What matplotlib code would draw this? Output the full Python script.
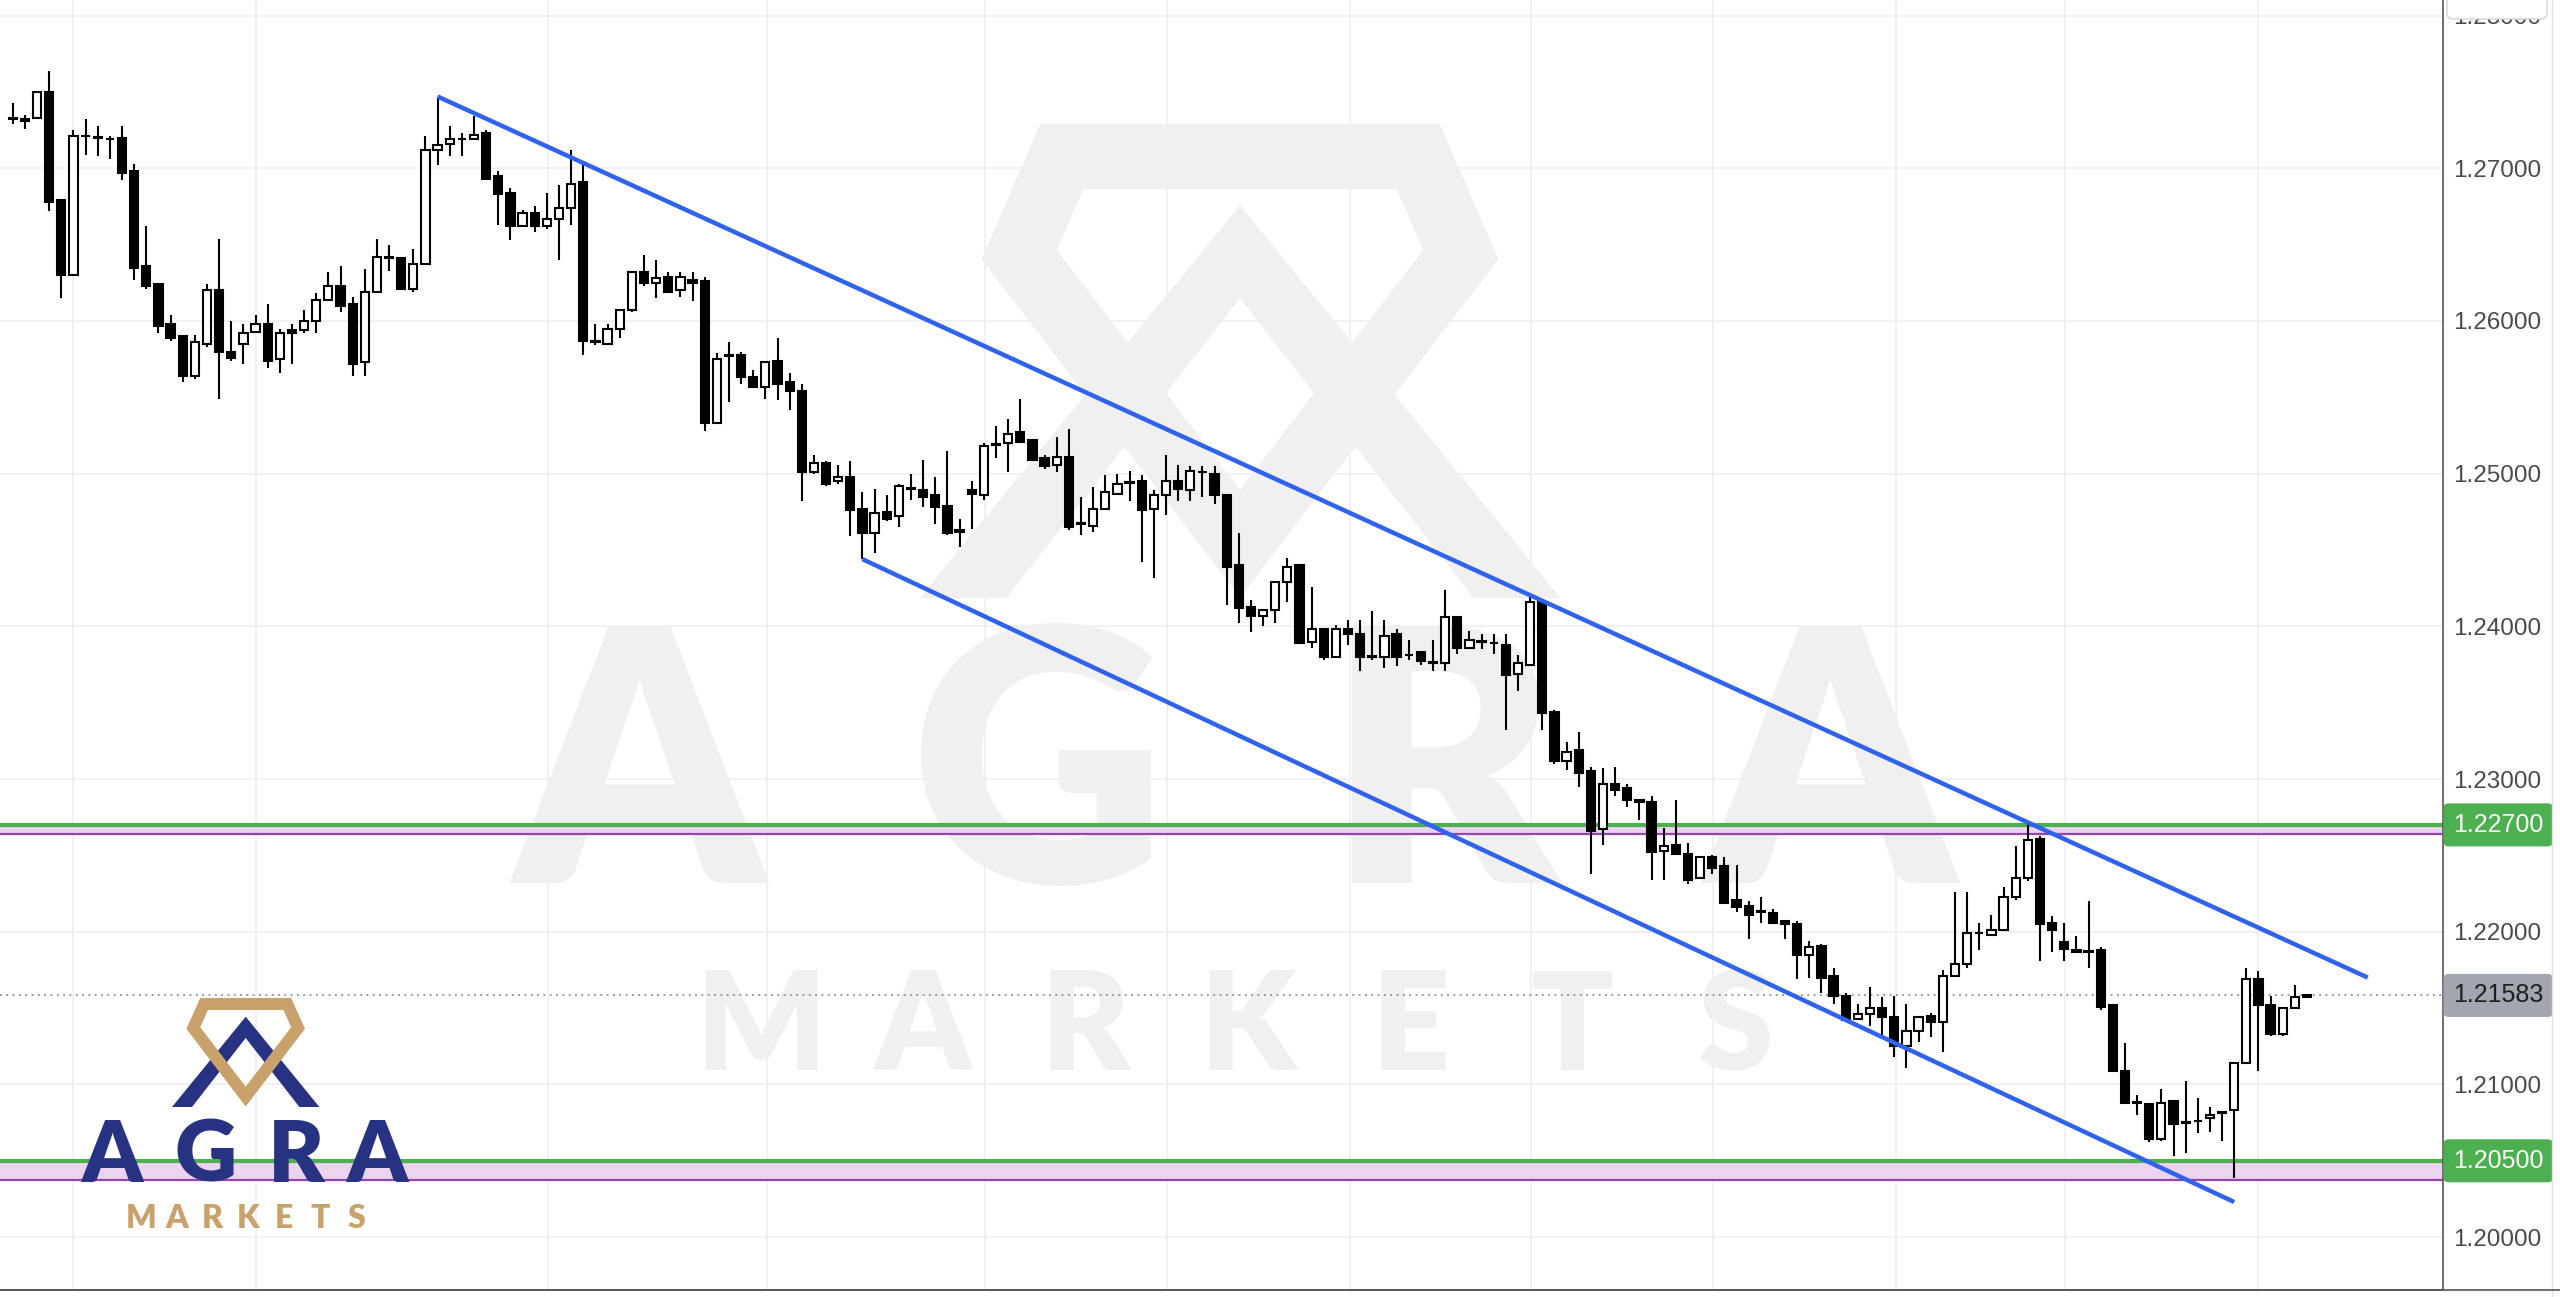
import numpy as np
import matplotlib
matplotlib.use("Agg")
import matplotlib.pyplot as plt
import matplotlib.transforms as mtransforms
from matplotlib.patches import Polygon, FancyBboxPatch

# OHLC candles, oldest first
opens = [
    1.2733, 1.2732, 1.2733, 1.2750, 1.2679, 1.2630, 1.2721, 1.2720, 1.2719, 1.2720,
    1.2698, 1.2636, 1.2624, 1.2598, 1.2590, 1.2564, 1.2585, 1.2620, 1.2580, 1.2585,
    1.2593, 1.2598, 1.2575, 1.2594, 1.2594, 1.2600, 1.2614, 1.2623, 1.2611, 1.2573,
    1.2619, 1.2642, 1.2641, 1.2621, 1.2637, 1.2712, 1.2716, 1.2719, 1.2719, 1.2723,
    1.2695, 1.2684, 1.2662, 1.2671, 1.2662, 1.2667, 1.2674, 1.2691, 1.2587, 1.2585,
    1.2595, 1.2607, 1.2632, 1.2625, 1.2629, 1.2620, 1.2627, 1.2626, 1.2533, 1.2577,
    1.2578, 1.2563, 1.2557, 1.2574, 1.2560, 1.2554, 1.2501, 1.2507, 1.2495, 1.2498,
    1.2477, 1.2461, 1.2475, 1.2472, 1.2490, 1.2489, 1.2486, 1.2479, 1.2463, 1.2489,
    1.2486, 1.2519, 1.2520, 1.2527, 1.2522, 1.2510, 1.2506, 1.2511, 1.2467, 1.2466,
    1.2477, 1.2487, 1.2494, 1.2495, 1.2477, 1.2486, 1.2495, 1.2489, 1.2501, 1.2500,
    1.2486, 1.2440, 1.2413, 1.2407, 1.2411, 1.2429, 1.2440, 1.2390, 1.2398, 1.2380,
    1.2398, 1.2395, 1.2380, 1.2380, 1.2395, 1.2381, 1.2383, 1.2376, 1.2376, 1.2406,
    1.2386, 1.2390, 1.2389, 1.2388, 1.2369, 1.2375, 1.2416, 1.2344, 1.2312, 1.2319,
    1.2305, 1.2267, 1.2297, 1.2294, 1.2286, 1.2285, 1.2253, 1.2257, 1.2251, 1.2235,
    1.2249, 1.2243, 1.2221, 1.2217, 1.2213, 1.2212, 1.2207, 1.2205, 1.2185, 1.2191,
    1.2171, 1.2158, 1.2143, 1.2146, 1.2150, 1.2144, 1.2125, 1.2135, 1.2145, 1.2141,
    1.2171, 1.2179, 1.2199, 1.2198, 1.2201, 1.2223, 1.2235, 1.2261, 1.2206, 1.2193,
    1.2188, 1.2187, 1.2188, 1.2152, 1.2109, 1.2088, 1.2087, 1.2064, 1.2089, 1.2075,
    1.2076, 1.2078, 1.2082, 1.2083, 1.2114, 1.2169, 1.2152, 1.2133, 1.2150, 1.2157,
]
highs = [
    1.2743, 1.2735, 1.2750, 1.2764, 1.2679, 1.2725, 1.2732, 1.2728, 1.2721, 1.2728,
    1.2703, 1.2662, 1.2624, 1.2604, 1.2590, 1.2591, 1.2624, 1.2654, 1.2600, 1.2598,
    1.2604, 1.2611, 1.2595, 1.2598, 1.2607, 1.2618, 1.2632, 1.2636, 1.2616, 1.2634,
    1.2654, 1.2650, 1.2641, 1.2647, 1.2721, 1.2747, 1.2728, 1.2723, 1.2734, 1.2725,
    1.2698, 1.2687, 1.2673, 1.2675, 1.2684, 1.2689, 1.2712, 1.2702, 1.2598, 1.2598,
    1.2607, 1.2633, 1.2643, 1.2640, 1.2632, 1.2632, 1.2632, 1.2629, 1.2579, 1.2586,
    1.2580, 1.2568, 1.2573, 1.2589, 1.2566, 1.2559, 1.2512, 1.2508, 1.2506, 1.2508,
    1.2488, 1.2490, 1.2486, 1.2493, 1.2500, 1.2509, 1.2498, 1.2515, 1.2470, 1.2495,
    1.2520, 1.2531, 1.2536, 1.2549, 1.2522, 1.2512, 1.2524, 1.2529, 1.2485, 1.2491,
    1.2499, 1.2500, 1.2502, 1.2499, 1.2489, 1.2512, 1.2506, 1.2505, 1.2505, 1.2505,
    1.2487, 1.2461, 1.2417, 1.2411, 1.2429, 1.2445, 1.2440, 1.2426, 1.2398, 1.2401,
    1.2404, 1.2404, 1.2410, 1.2404, 1.2398, 1.2391, 1.2383, 1.2391, 1.2424, 1.2406,
    1.2397, 1.2395, 1.2395, 1.2395, 1.2381, 1.2422, 1.2417, 1.2345, 1.2324, 1.2331,
    1.2308, 1.2307, 1.2308, 1.2297, 1.2287, 1.2289, 1.2268, 1.2286, 1.2258, 1.2249,
    1.2250, 1.2249, 1.2244, 1.2220, 1.2223, 1.2215, 1.2207, 1.2207, 1.2194, 1.2192,
    1.2176, 1.2160, 1.2153, 1.2164, 1.2157, 1.2158, 1.2153, 1.2145, 1.2147, 1.2175,
    1.2226, 1.2226, 1.2206, 1.2211, 1.2229, 1.2256, 1.2271, 1.2263, 1.2210, 1.2206,
    1.2197, 1.2220, 1.2190, 1.2152, 1.2127, 1.2093, 1.2087, 1.2097, 1.2090, 1.2102,
    1.2091, 1.2085, 1.2082, 1.2114, 1.2176, 1.2174, 1.2158, 1.2150, 1.2165, 1.2159,
]
lows = [
    1.2729, 1.2726, 1.2733, 1.2672, 1.2615, 1.2630, 1.2709, 1.2708, 1.2706, 1.2692,
    1.2627, 1.2621, 1.2592, 1.2587, 1.2560, 1.2562, 1.2583, 1.2549, 1.2574, 1.2572,
    1.2592, 1.2569, 1.2566, 1.2572, 1.2592, 1.2592, 1.2614, 1.2606, 1.2564, 1.2564,
    1.2619, 1.2633, 1.2621, 1.2619, 1.2637, 1.2702, 1.2708, 1.2708, 1.2719, 1.2693,
    1.2663, 1.2653, 1.2662, 1.2658, 1.2660, 1.2640, 1.2663, 1.2578, 1.2584, 1.2584,
    1.2589, 1.2606, 1.2623, 1.2615, 1.2619, 1.2616, 1.2613, 1.2528, 1.2533, 1.2547,
    1.2559, 1.2556, 1.2549, 1.2548, 1.2542, 1.2482, 1.2500, 1.2492, 1.2493, 1.2459,
    1.2444, 1.2448, 1.2469, 1.2465, 1.2483, 1.2478, 1.2467, 1.2460, 1.2452, 1.2464,
    1.2483, 1.2510, 1.2501, 1.2520, 1.2509, 1.2503, 1.2501, 1.2463, 1.2460, 1.2462,
    1.2476, 1.2486, 1.2482, 1.2442, 1.2432, 1.2473, 1.2482, 1.2482, 1.2485, 1.2480,
    1.2414, 1.2402, 1.2396, 1.2400, 1.2402, 1.2416, 1.2389, 1.2386, 1.2378, 1.2380,
    1.2388, 1.2371, 1.2378, 1.2373, 1.2374, 1.2378, 1.2375, 1.2371, 1.2371, 1.2382,
    1.2385, 1.2385, 1.2382, 1.2332, 1.2358, 1.2375, 1.2332, 1.2310, 1.2306, 1.2295,
    1.2238, 1.2257, 1.2289, 1.2282, 1.2273, 1.2234, 1.2234, 1.2250, 1.2231, 1.2235,
    1.2238, 1.2218, 1.2213, 1.2195, 1.2206, 1.2206, 1.2195, 1.2169, 1.2170, 1.2160,
    1.2153, 1.2141, 1.2142, 1.2138, 1.2131, 1.2118, 1.2111, 1.2128, 1.2131, 1.2121,
    1.2171, 1.2176, 1.2188, 1.2197, 1.2201, 1.2221, 1.2233, 1.2181, 1.2187, 1.2181,
    1.2187, 1.2176, 1.2149, 1.2109, 1.2088, 1.2080, 1.2062, 1.2063, 1.2053, 1.2055,
    1.2068, 1.2069, 1.2063, 1.2039, 1.2114, 1.2109, 1.2132, 1.2132, 1.2150, 1.2157,
]
closes = [
    1.2732, 1.2731, 1.2750, 1.2678, 1.2630, 1.2721, 1.2721, 1.2720, 1.2719, 1.2697,
    1.2635, 1.2623, 1.2597, 1.2589, 1.2564, 1.2586, 1.2620, 1.2580, 1.2576, 1.2592,
    1.2598, 1.2574, 1.2592, 1.2592, 1.2600, 1.2614, 1.2623, 1.2610, 1.2572, 1.2619,
    1.2642, 1.2641, 1.2621, 1.2637, 1.2712, 1.2715, 1.2719, 1.2719, 1.2722, 1.2693,
    1.2683, 1.2662, 1.2671, 1.2662, 1.2667, 1.2674, 1.2690, 1.2587, 1.2586, 1.2595,
    1.2607, 1.2632, 1.2625, 1.2628, 1.2619, 1.2629, 1.2625, 1.2533, 1.2575, 1.2577,
    1.2563, 1.2557, 1.2573, 1.2559, 1.2554, 1.2501, 1.2507, 1.2493, 1.2498, 1.2476,
    1.2461, 1.2474, 1.2470, 1.2492, 1.2490, 1.2485, 1.2478, 1.2461, 1.2462, 1.2487,
    1.2518, 1.2519, 1.2526, 1.2521, 1.2509, 1.2505, 1.2511, 1.2465, 1.2467, 1.2477,
    1.2488, 1.2493, 1.2494, 1.2476, 1.2486, 1.2495, 1.2490, 1.2502, 1.2501, 1.2486,
    1.2439, 1.2412, 1.2407, 1.2411, 1.2429, 1.2439, 1.2389, 1.2398, 1.2380, 1.2398,
    1.2395, 1.2380, 1.2380, 1.2394, 1.2380, 1.2381, 1.2377, 1.2376, 1.2406, 1.2386,
    1.2391, 1.2390, 1.2389, 1.2368, 1.2376, 1.2416, 1.2343, 1.2312, 1.2318, 1.2304,
    1.2266, 1.2297, 1.2293, 1.2286, 1.2285, 1.2252, 1.2256, 1.2251, 1.2234, 1.2249,
    1.2242, 1.2219, 1.2216, 1.2211, 1.2213, 1.2206, 1.2205, 1.2185, 1.2190, 1.2170,
    1.2158, 1.2142, 1.2146, 1.2150, 1.2144, 1.2125, 1.2135, 1.2144, 1.2141, 1.2171,
    1.2179, 1.2199, 1.2199, 1.2201, 1.2223, 1.2235, 1.2260, 1.2205, 1.2201, 1.2189,
    1.2187, 1.2187, 1.2151, 1.2109, 1.2088, 1.2088, 1.2064, 1.2088, 1.2074, 1.2075,
    1.2076, 1.2080, 1.2081, 1.2114, 1.2169, 1.2152, 1.2133, 1.2150, 1.2157, 1.21583,
]

# descending channel drawn on the chart: (bar index, price)
upper_bars = [35, 194]
upper_prices = [1.2747, 1.2170]
lower_bars = [70, 183]
lower_prices = [1.2444, 1.2023]

# horizontal levels
resistance = 1.2270
resistance_low = 1.2264
support = 1.2050
support_low = 1.20375
last_price = 1.21583

price_ticks = [1.20, 1.21, 1.22, 1.23, 1.24, 1.25, 1.26, 1.27, 1.28]
session_breaks = [5, 20, 44.1, 62.1, 80.1, 95.1, 110.2, 125.1, 140.1, 155.1, 169.1, 185.0]

W, H = 2560, 1297
NAVY = "#283282"
GOLD = "#c9a26b"
WM = "#f0f0f0"

fig = plt.figure(figsize=(W / 100, H / 100), dpi=100)
fig.patch.set_facecolor("white")
ax = fig.add_axes([0, 7 / H, 2443 / W, 1 - 7 / H])
ax.set_facecolor("white")
ax.set_xlim(-1.05, 200.2)
ax.set_ylim(1.19654, 1.28102)

# pixel coordinates, origin top-left, for watermark and logo
T = mtransforms.Affine2D().scale(1 / W, -1 / H).translate(0, 1) + fig.transFigure

# grid
ax.set_xticks(session_breaks)
ax.set_yticks(price_ticks)
ax.grid(True, color="#eff0f3", lw=1.3)
ax.set_axisbelow(True)
ax.yaxis.tick_right()
ax.set_yticklabels([f"{p:.5f}" for p in price_ticks])
ax.tick_params(axis="x", length=0, labelbottom=False)
ax.tick_params(axis="y", length=0, pad=7, labelsize=17.5, labelcolor="#4a4a4a")
for lbl in ax.get_yticklabels():
    lbl.set_family("Liberation Sans")
for s in ["top", "left"]:
    ax.spines[s].set_visible(False)
ax.spines["right"].set_color("#555555")
ax.spines["right"].set_linewidth(1.2)
ax.spines["bottom"].set_color("#555555")
ax.spines["bottom"].set_linewidth(1.2)


def draw_mark(cx, top, s, t, gold, navy, z):
    """diamond + A symbol of the logo, t = diamond stroke in logo units"""
    chevron = [(0, 18.7), (-73.7, 109), (-53.7, 109), (0, 40), (53.7, 109), (73.7, 109)]
    ax.add_patch(Polygon([(cx + s * x, top + s * y) for x, y in chevron], closed=True,
                         fc=navy, ec="none", transform=T, zorder=z))
    h = t / 2
    diamond = [(-(44 - 0.4 * h), h), (44 - 0.4 * h, h), (59 - 1.1 * h, 30),
               (0, 107 - 1.4 * h), (-(59 - 1.1 * h), 30)]
    ax.add_patch(Polygon([(cx + s * x, top + s * y) for x, y in diamond], closed=True,
                         fill=False, ec=gold, lw=t * s * 0.72, joinstyle="miter",
                         transform=T, zorder=z + 0.01))


# background watermark
draw_mark(1240, 124, 4.35, 15, WM, WM, 0.8)
for ch, xc in zip("AGRA", [639, 1038, 1442, 1830]):
    ax.text(xc, 780, ch, transform=T, ha="center", va="center", fontsize=254,
            family="Lato", fontweight="heavy", color=WM, zorder=0.8)
for k, ch in enumerate("MARKETS"):
    ax.text(761 + 162.3 * k, 1030, ch, transform=T, ha="center", va="center", fontsize=98,
            family="Lato", fontweight="heavy", color=WM, zorder=0.8)

# horizontal zones
ax.axhspan(resistance_low, resistance, color="#ecd3f0", lw=0, zorder=1.5)
ax.axhline(resistance, color="#4caf50", lw=3.0, zorder=2)
ax.axhline(resistance_low, color="#9545ab", lw=1.6, zorder=2)
ax.axhspan(support_low, support, color="#ecd3f0", lw=0, zorder=1.5)
ax.axhline(support, color="#4caf50", lw=3.0, zorder=2)
ax.axhline(support_low, color="#9545ab", lw=1.6, zorder=2)
ax.axhline(last_price, color="#8a8d96", lw=1.3, ls=(0, (1, 2.5)), zorder=2)

# candles
o, hi, lo, c = map(np.array, (opens, highs, lows, closes))
x = np.arange(len(o))
up = c >= o
ax.vlines(x, lo, hi, color="black", lw=1.5, zorder=3)
bottom = np.minimum(o, c)
height = np.maximum(np.abs(c - o), 0.00004)
ax.bar(x[up], height[up], bottom=bottom[up], width=0.68, color="white",
       edgecolor="black", linewidth=1.5, zorder=4)
ax.bar(x[~up], height[~up], bottom=bottom[~up], width=0.68, color="black",
       edgecolor="black", linewidth=1.5, zorder=4)

# channel
ax.plot(upper_bars, upper_prices, color="#2f62ee", lw=3.2, zorder=5, solid_capstyle="butt")
ax.plot(lower_bars, lower_prices, color="#2f62ee", lw=3.2, zorder=5, solid_capstyle="butt")

# price labels on the axis
lbl_tr = mtransforms.offset_copy(mtransforms.blended_transform_factory(ax.transAxes, ax.transData),
                                 fig=fig, x=10, y=0, units="dots")
for p, fc, tc in [(resistance, "#4caf50", "white"), (support, "#4caf50", "white"),
                  (last_price, "#a3a6ae", "#1e1e1e")]:
    ax.text(1.0, p, f"{p:.5f}", transform=lbl_tr, ha="left", va="center", fontsize=18,
            family="Liberation Sans", color=tc, clip_on=False, zorder=10,
            bbox=dict(boxstyle="round,pad=0.38,rounding_size=0.2", fc=fc, ec="none"))

# top-right button box and right border
fig.patches.append(FancyBboxPatch((2447, -20), 100, 39, boxstyle="round,pad=0,rounding_size=6",
                                  fc="white", ec="#d4d4d8", lw=1.0, transform=T, zorder=20))
fig.add_artist(plt.Line2D([2552, 2552], [0, 1297], transform=T, color="#e3e3e6", lw=1.0))
fig.add_artist(plt.Line2D([0, 2560], [1290, 1290], transform=T, color="#555555", lw=1.2))

# logo, bottom-left
draw_mark(245.7, 998, 1.0, 12, GOLD, NAVY, 7)
for ch, xc in zip("AGRA", [111.7, 205.7, 295.7, 376.7]):
    ax.text(xc, 1157, ch, transform=T, ha="center", va="center", fontsize=62,
            family="Lato", fontweight="heavy", color=NAVY, zorder=7)
for k, ch in enumerate("MARKETS"):
    ax.text(140.7 + 35.9 * k, 1218, ch, transform=T, ha="center", va="center", fontsize=23,
            family="Lato", fontweight="heavy", color=GOLD, zorder=7)

fig.savefig("out.png", dpi=100, facecolor="white")
